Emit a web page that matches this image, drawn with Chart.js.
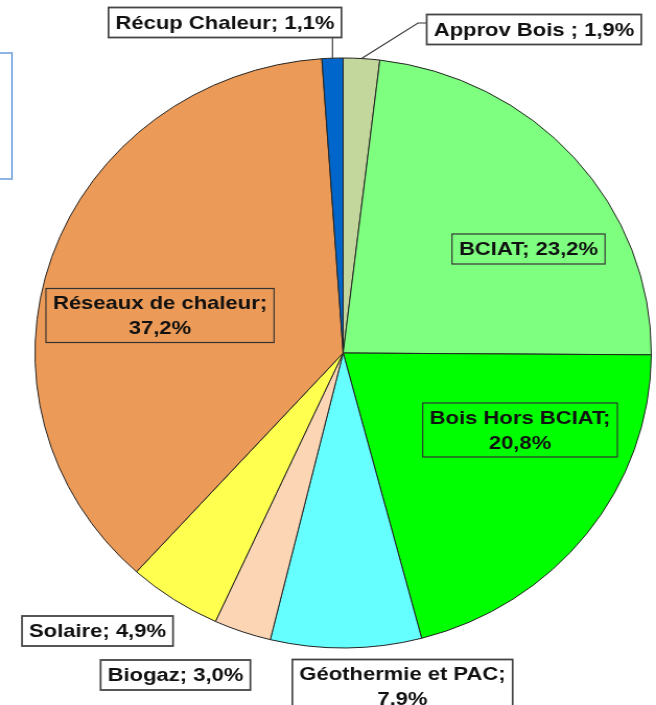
<!DOCTYPE html>
<html lang="fr">
<head>
<meta charset="UTF-8">
<title>Répartition par filière</title>
<script src="https://cdn.jsdelivr.net/npm/chart.js"></script>
<style>
    body { margin: 0; background: #fff; overflow: hidden; }
    #wrap { position: absolute; left: 0; top: 0; width: 628px; height: 705px; transform: scaleX(1.0446); transform-origin: 0 0; }
    .cadre { position: absolute; left: -20px; top: 52px; width: 33px; height: 128px; box-sizing: border-box; border: 2px solid #8eb4e3; }
</style>
</head>
<body>
    <div class="cadre"></div>
    <div id="wrap">
        <canvas id="camembert" width="628" height="705"></canvas>
    </div>

<script>
    const categories = ["Approv Bois", "BCIAT", "Bois Hors BCIAT", "Géothermie et PAC", "Biogaz", "Solaire", "Réseaux de chaleur", "Récup Chaleur"];
    const valeurs = [1.9, 23.2, 20.8, 7.9, 3.0, 4.9, 37.2, 1.1];
    const couleurs = ["#c3d69b", "#7fff7f", "#00ff00", "#66ffff", "#fcd5b5", "#ffff4f", "#eb9a57", "#0066cc"];

    const SX = 1.0446;   // etirement horizontal du camembert
    const TX = 1.19;     // etirement du texte

    // placement des etiquettes (centre, coordonnees de la page)
    const etiquettes = [
        { x: 534, y: 29.5, sep: " ; ", fond: true, coude: [418, 23] },
        { x: 528.5, y: 249, sep: "; " },
        { x: 520, y: 430, sep: ";\n" },
        { x: 402.5, y: 686.5, sep: ";\n", fond: true },
        { x: 175.5, y: 675, sep: "; ", fond: true },
        { x: 97.5, y: 631, sep: "; ", fond: true },
        { x: 160, y: 315.5, sep: ";\n" },
        { x: 225, y: 22.5, sep: "; ", fond: true, trait: true }
    ];

    const pluginEtiquettes = {
        id: "etiquettes",
        afterDatasetsDraw(chart) {
            const ctx = chart.ctx;
            const arcs = chart.getDatasetMeta(0).data;
            ctx.save();
            ctx.scale(1 / SX, 1);
            ctx.font = 'bold 18.5px "Liberation Sans", Arial, sans-serif';
            ctx.textAlign = "center";
            ctx.textBaseline = "middle";
            arcs.forEach((arc, i) => {
                const e = etiquettes[i];
                const texte = categories[i] + e.sep + valeurs[i].toFixed(1).replace(".", ",") + "%";
                const lignes = texte.split("\n");
                const w = Math.max(...lignes.map(l => ctx.measureText(l).width)) * TX + 14;
                const h = lignes.length * 24 + 6;
                const bx = e.x - w / 2, by = e.y - h / 2;

                const mid = (arc.startAngle + arc.endAngle) / 2;
                const px = (arc.x + Math.cos(mid) * arc.outerRadius) * SX;
                const py = arc.y + Math.sin(mid) * arc.outerRadius;
                ctx.strokeStyle = "#333";
                ctx.lineWidth = 1.2;
                if (e.trait) {
                    ctx.beginPath();
                    ctx.moveTo(px, py);
                    ctx.lineTo(px, by + h);
                    ctx.stroke();
                }
                if (e.coude) {
                    ctx.beginPath();
                    ctx.moveTo(px, py);
                    ctx.lineTo(e.coude[0], e.coude[1]);
                    ctx.lineTo(bx, e.coude[1]);
                    ctx.stroke();
                }

                if (e.fond) {
                    ctx.fillStyle = "#fff";
                    ctx.fillRect(bx, by, w, h);
                    ctx.strokeStyle = "#444";
                    ctx.lineWidth = 1.8;
                } else {
                    ctx.strokeStyle = "#333";
                    ctx.lineWidth = 1.2;
                }
                ctx.strokeRect(bx, by, w, h);

                ctx.fillStyle = "#111";
                lignes.forEach((l, k) => {
                    ctx.save();
                    ctx.translate(e.x, e.y + (k - (lignes.length - 1) / 2) * 25 + 1);
                    ctx.scale(TX, 1);
                    ctx.fillText(l, 0, 0);
                    ctx.restore();
                });
            });
            ctx.restore();
        }
    };

    new Chart(document.getElementById("camembert"), {
        type: "pie",
        data: {
            labels: categories,
            datasets: [{
                data: valeurs,
                backgroundColor: couleurs,
                borderColor: "#222",
                borderWidth: 1
            }]
        },
        options: {
            responsive: false,
            animation: false,
            radius: 295,
            layout: { padding: { left: 29, right: 0, top: 1, bottom: 0 } },
            plugins: {
                legend: { display: false },
                tooltip: { enabled: false }
            }
        },
        plugins: [pluginEtiquettes]
    });
</script>
</body>
</html>
